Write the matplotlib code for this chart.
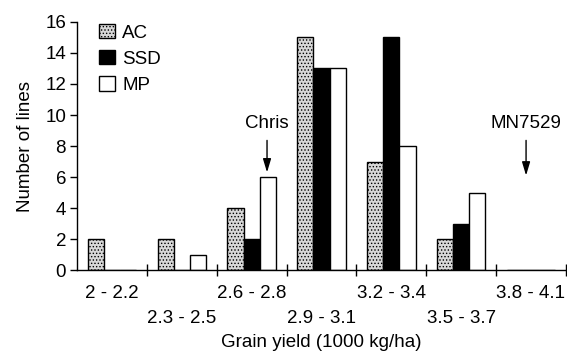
import numpy as np
import matplotlib
matplotlib.use("Agg")
import matplotlib.pyplot as plt

plt.rcParams['font.family'] = ['Liberation Sans', 'DejaVu Sans']
plt.rcParams['hatch.linewidth'] = 0.6

categories = ['2 - 2.2', '2.3 - 2.5', '2.6 - 2.8', '2.9 - 3.1', '3.2 - 3.4', '3.5 - 3.7', '3.8 - 4.1']
ac = [2, 2, 4, 15, 7, 2, 0]
ssd = [0, 0, 2, 13, 15, 3, 0]
mp = [0, 1, 6, 13, 8, 5, 0]

fig = plt.figure(figsize=(5.67, 3.54), dpi=100)
ax = fig.add_axes([0.136, 0.237, 0.862, 0.701])

x = np.arange(len(categories))
w = 0.232
ax.bar(x - w, ac, w, facecolor='#d8d8d8', edgecolor='black', hatch='.....', linewidth=1, label='AC')
ax.bar(x, ssd, w, facecolor='black', edgecolor='black', linewidth=1, label='SSD')
ax.bar(x + w, mp, w, facecolor='white', edgecolor='black', linewidth=1, label='MP')

ax.set_xlim(-0.5, 6.5)
ax.set_ylim(0, 16)
ax.set_yticks(range(0, 17, 2))
ax.set_xticks(np.arange(0.5, 7, 1))
ax.set_xticklabels([])
ax.set_xticks(x, minor=True)
ax.set_xticklabels([c if i % 2 == 0 else '\n' + c for i, c in enumerate(categories)],
                   minor=True, fontsize=13.5, linespacing=1.6)
ax.tick_params(axis='x', which='major', direction='inout', length=9, width=1)
ax.tick_params(axis='x', which='minor', length=0, pad=11)
ax.tick_params(axis='y', direction='out', length=5, width=1, labelsize=13.5, pad=3)

for s in ['top', 'right']:
    ax.spines[s].set_visible(False)
ax.spines['left'].set_linewidth(1)
ax.spines['bottom'].set_linewidth(1)

ax.set_ylabel('Number of lines', fontsize=13.5, labelpad=8)
ax.set_xlabel('Grain yield (1000 kg/ha)', fontsize=13.5, labelpad=5)

ax.annotate('Chris', xy=(2.22, 6.3), xytext=(2.22, 8.9), ha='center', va='bottom', fontsize=13.5,
            arrowprops=dict(arrowstyle='-|>,head_width=0.18,head_length=0.6', color='black', lw=1,
                            shrinkA=4, shrinkB=0))
ax.annotate('MN7529', xy=(5.93, 6.1), xytext=(5.93, 8.9), ha='center', va='bottom', fontsize=13.5,
            arrowprops=dict(arrowstyle='-|>,head_width=0.18,head_length=0.6', color='black', lw=1,
                            shrinkA=4, shrinkB=0))

ax.legend(loc='upper left', bbox_to_anchor=(0.01, 1.06), frameon=False, fontsize=13.5,
          handlelength=0.85, handleheight=0.8, handletextpad=0.4, labelspacing=0.45)

fig.savefig('out.png', dpi=100)
